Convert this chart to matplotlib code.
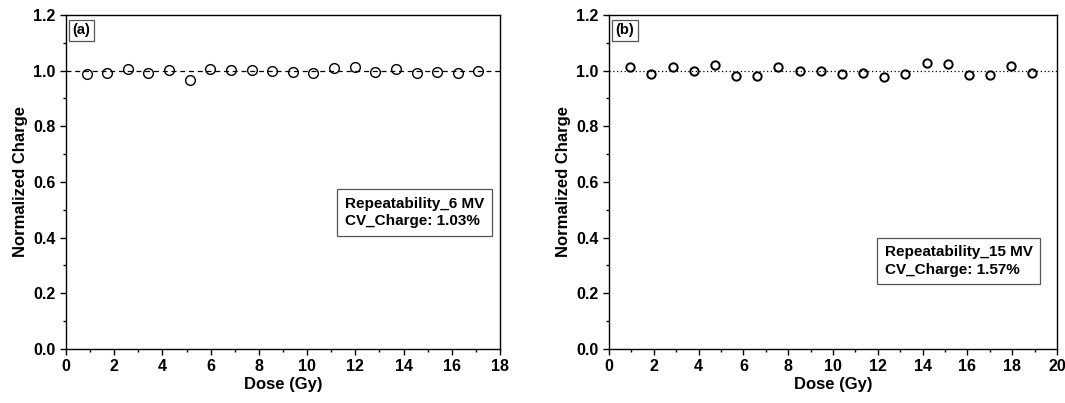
import matplotlib.pyplot as plt
from matplotlib.ticker import MultipleLocator

plt.rcParams['font.family'] = ['Liberation Sans', 'DejaVu Sans']
plt.rcParams['font.weight'] = 'bold'

# 6 MV repeatability
dose_6mv = [0.86, 1.71, 2.57, 3.42, 4.28, 5.13, 5.99, 6.84, 7.70, 8.55,
            9.41, 10.26, 11.12, 11.97, 12.83, 13.68, 14.54, 15.39, 16.25, 17.10]
charge_6mv = [0.988, 0.992, 1.006, 0.992, 1.002, 0.967, 1.007, 1.002, 1.002, 0.999,
              0.994, 0.990, 1.010, 1.014, 0.994, 1.007, 0.993, 0.995, 0.992, 1.000]

# 15 MV repeatability
dose_15mv = [0.95, 1.89, 2.84, 3.78, 4.73, 5.67, 6.62, 7.56, 8.51, 9.45,
             10.40, 11.34, 12.29, 13.23, 14.18, 15.12, 16.07, 17.01, 17.96, 18.90]
charge_15mv = [1.012, 0.987, 1.012, 0.999, 1.019, 0.981, 0.982, 1.012, 0.999, 0.999,
               0.988, 0.992, 0.976, 0.988, 1.026, 1.024, 0.983, 0.985, 1.018, 0.993]

fig = plt.figure(figsize=(10.65, 4.03), dpi=100)
ax1 = fig.add_axes([0.062, 0.134, 0.4075, 0.829])
ax2 = fig.add_axes([0.5718, 0.134, 0.4207, 0.829])

panels = [
    (ax1, dose_6mv, charge_6mv, 18, (0, (4, 3)), '(a)', 7, 1.0,
     'Repeatability_6 MV\nCV_Charge: 1.03%', (0.642, 0.361)),
    (ax2, dose_15mv, charge_15mv, 20, (0, (1, 2)), '(b)', 6, 1.4,
     'Repeatability_15 MV\nCV_Charge: 1.57%', (0.615, 0.217)),
]

for ax, x, y, xmax, ls, tag, ms, mew, note, note_pos in panels:
    ax.axhline(1.0, color='black', lw=0.9, ls=ls, zorder=1)
    ax.plot(x, y, 'o', mfc='none', mec='black', ms=ms, mew=mew, zorder=2)
    ax.set_xlim(0, xmax)
    ax.set_ylim(0, 1.2)
    ax.xaxis.set_major_locator(MultipleLocator(2))
    ax.xaxis.set_minor_locator(MultipleLocator(1))
    ax.yaxis.set_major_locator(MultipleLocator(0.2))
    ax.yaxis.set_minor_locator(MultipleLocator(0.1))
    ax.yaxis.set_major_formatter(plt.FormatStrFormatter('%.1f'))
    ax.tick_params(which='both', direction='out', top=False, right=False,
                   labelsize=11.5, width=1.0)
    ax.tick_params(which='major', length=4)
    ax.tick_params(which='minor', length=2.5)
    for s in ax.spines.values():
        s.set_linewidth(1.0)
    ax.set_xlabel('Dose (Gy)', fontsize=12, fontweight='bold', labelpad=2)
    ax.set_ylabel('Normalized Charge', fontsize=12, fontweight='bold', labelpad=4)
    ax.text(0.015, 0.975, tag, transform=ax.transAxes, fontsize=10.5,
            fontweight='bold', va='top', ha='left',
            bbox=dict(boxstyle='square,pad=0.25', fc='white', ec='#555555', lw=0.9))
    ax.text(note_pos[0], note_pos[1], note, transform=ax.transAxes, fontsize=11,
            fontweight='bold', va='bottom', ha='left', linespacing=1.3,
            bbox=dict(boxstyle='square,pad=0.5', fc='white', ec='#555555', lw=0.9))

fig.savefig('out.png', dpi=100)
